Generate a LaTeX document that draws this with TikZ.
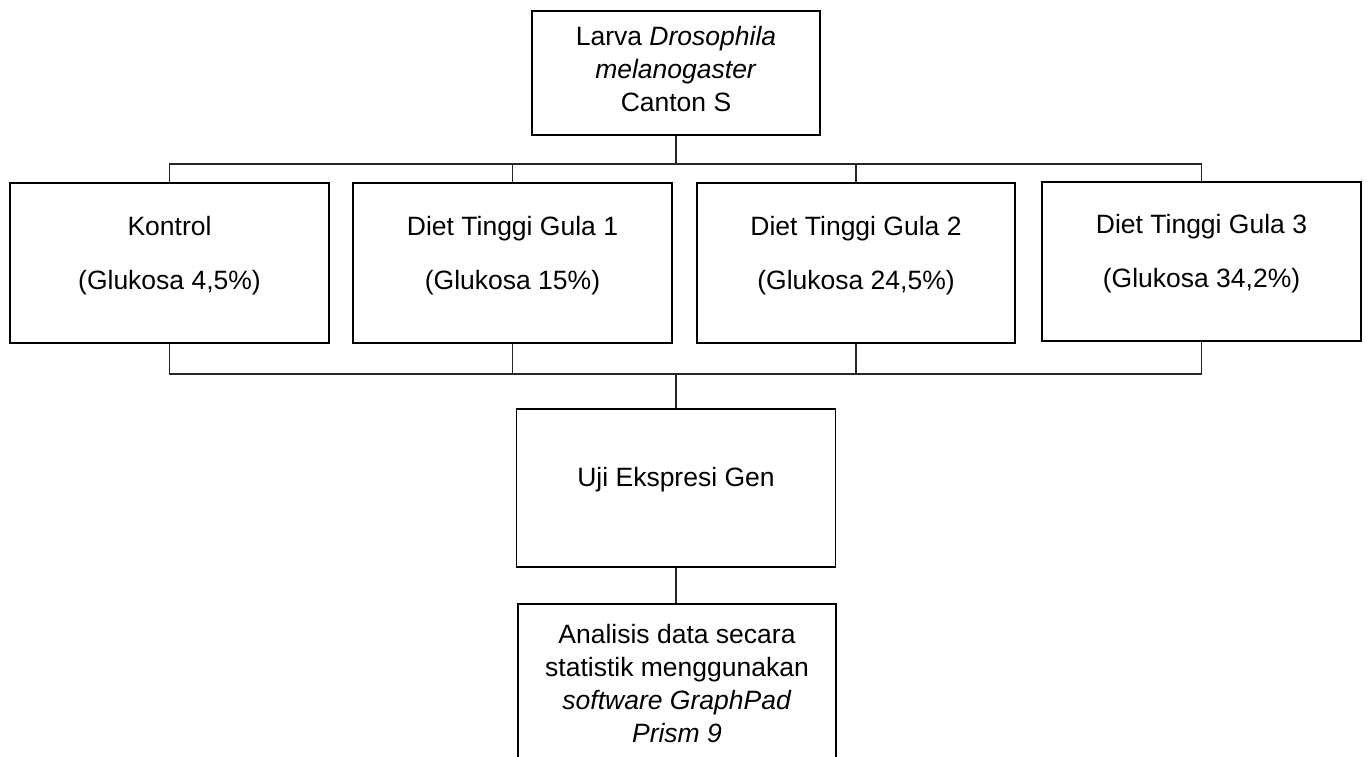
\documentclass[tikz,border=0pt]{standalone}
\usepackage{fontspec}
\setmainfont{Liberation Sans}
\usetikzlibrary{calc}
\begin{document}
\begin{tikzpicture}[x=1pt,y=-1pt,
  box/.style={draw=black,line width=1.8pt,inner sep=0pt,minimum width=#1},
  conn/.style={draw=black!85,line width=1.1pt},
  txt/.style={inner sep=0pt,text height=19pt,text depth=0pt,font=\fontsize{26.5}{33}\selectfont},
  mtxt/.style={inner sep=0pt,align=center,font=\fontsize{26.5}{33}\selectfont}]
\useasboundingbox (0,0) rectangle (1366,756);
\clip (0,0) rectangle (1366,756);
\fill[white] (0,0) rectangle (1366,756);
% boxes
\node[box=288pt,minimum height=124pt] (top) at (676,73) {};
\node[box=319pt,minimum height=160pt] (k)  at (169.5,263) {};
\node[box=319pt,minimum height=160pt] (d1) at (512.5,263) {};
\node[box=318pt,minimum height=160pt] (d2) at (856,263) {};
\node[box=319pt,minimum height=159pt] (d3) at (1201.5,261.5) {};
\node[box=319pt,minimum height=158pt] (uji) at (676,488) {};
\node[box=318pt,minimum height=166pt] (ana) at (677,687) {};
% texts
\node[mtxt] (ttop) at ($(top.center)+(0,-4)$) {Larva \textit{Drosophila}\\\textit{melanogaster}\\Canton S};
\node[txt] (tk1) at ($(k.center)+(0,-37)$) {Kontrol};
\node[txt] (tk2) at ($(k.center)+(0,17)$) {(Glukosa 4,5\%)};
\node[txt] (td11) at ($(d1.center)+(0,-37)$) {Diet Tinggi Gula 1};
\node[txt] (td12) at ($(d1.center)+(0,17)$) {(Glukosa 15\%)};
\node[txt] (td21) at ($(d2.center)+(0,-37)$) {Diet Tinggi Gula 2};
\node[txt] (td22) at ($(d2.center)+(0,17)$) {(Glukosa 24,5\%)};
\node[txt] (td31) at ($(d3.center)+(0,-38)$) {Diet Tinggi Gula 3};
\node[txt] (td32) at ($(d3.center)+(0,16)$) {(Glukosa 34,2\%)};
\node[txt] (tuji) at ($(uji.center)+(0,-11)$) {Uji Ekspresi Gen};
\node[mtxt] (tana) at (677,684) {Analisis data secara\\statistik menggunakan\\\textit{software GraphPad}\\\textit{Prism 9}};
% bus coordinates
\coordinate (busT) at (0,164);
\coordinate (busB) at (0,374);
% top bus
\draw[conn] (top.south) -- (top.south |- busT);
\draw[conn] (k.north) |- (d3.north |- busT) -- (d3.north);
\draw[conn] (d1.north) -- (d1.north |- busT);
\draw[conn] (d2.north) -- (d2.north |- busT);
% bottom bus
\draw[conn] (k.south) |- (d3.south |- busB) -- (d3.south);
\draw[conn] (d1.south) -- (d1.south |- busB);
\draw[conn] (d2.south) -- (d2.south |- busB);
\draw[conn] (uji.north |- busB) -- (uji.north);
\draw[conn] (uji.south) -- (uji.south |- ana.north);
\end{tikzpicture}
\end{document}
